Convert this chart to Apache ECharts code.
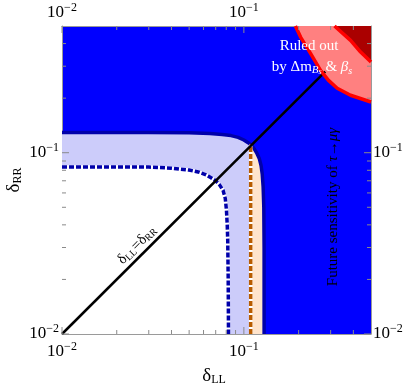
<!DOCTYPE html>
<html>
<head>
<meta charset="utf-8">
<script src="https://cdn.jsdelivr.net/npm/echarts@6/dist/echarts.min.js"></script>
<style>
html,body{margin:0;padding:0;background:#fff;}
#chart{width:407px;height:385px;}
</style>
</head>
<body>
<div id="chart"></div>
<script>
// ---- data ----
const axisMin = 0.01;
const axisMax = 0.5;
const majorTicks = [0.01, 0.1];
const minorTicks = [0.02, 0.03, 0.04, 0.05, 0.06, 0.07, 0.08, 0.09, 0.2, 0.3, 0.4];
const tickExponents = [[0.01, '−2'], [0.1, '−1']];

// present bound (solid navy curve)
const solidCurve = [
  [0.0100, 0.1292], [0.0300, 0.1292], [0.0500, 0.1287], [0.0650, 0.1276],
  [0.0760, 0.1262], [0.0850, 0.1243], [0.0930, 0.1215], [0.1000, 0.1175],
  [0.1050, 0.1140], [0.1100, 0.1100], [0.1140, 0.1050], [0.1175, 0.1000],
  [0.1215, 0.0930], [0.1243, 0.0850], [0.1262, 0.0760], [0.1276, 0.0650],
  [0.1287, 0.0500], [0.1292, 0.0300], [0.1292, 0.0100]
];
// future bound (dashed navy curve)
const dashedCurve = [
  [0.0100, 0.0835], [0.0300, 0.0833], [0.0400, 0.0822], [0.0500, 0.0802],
  [0.0570, 0.0780], [0.0620, 0.0755], [0.0660, 0.0728], [0.0700, 0.0700],
  [0.0735, 0.0665], [0.0768, 0.0621], [0.0790, 0.0560], [0.0802, 0.0482],
  [0.0810, 0.0400], [0.0815, 0.0330], [0.0820, 0.0200], [0.0823, 0.0100]
];
// orange dashed vertical line
const orangeX = 0.109;
const orangeTop = 0.111;
// Delta m_Bs & beta_s excluded region
const outerRed = [
  [0.192, 0.500], [0.205, 0.4345], [0.2325, 0.3533], [0.2639, 0.2848],
  [0.292, 0.2507], [0.326, 0.2266], [0.386, 0.2074], [0.500, 0.1905]
];
const innerRed = [
  [0.315, 0.500], [0.386, 0.4168], [0.4384, 0.359], [0.500, 0.3164]
];
const diagonal = [[0.01, 0.01], [0.28, 0.28]];

// ---- styling ----
const FONT = '"Liberation Serif", "DejaVu Serif", serif';
const C = {
  blue: '#0000ff', light: '#ccccfa', peach: '#ffe4cc', white: '#ffffff',
  navy: '#0000aa', orange: '#b85c00', lred: '#ff8080', dred: '#aa0000',
  red: '#ff0000', tick: '#8a8a8a', axis: '#9a9a9a'
};

function polygonSeries(points, color) {
  return {
    type: 'custom', silent: true, clip: false, data: points,
    renderItem: function (params, api) {
      if (params.dataIndex !== 0) return null;
      return {
        type: 'polygon',
        shape: { points: points.map(p => api.coord(p)) },
        style: { fill: color }
      };
    }
  };
}
function lineSeries(points, color, width, dash) {
  return {
    type: 'line', silent: true, data: points, symbol: 'none', smooth: false,
    lineStyle: { color: color, width: width, type: dash || 'solid', cap: 'butt' }
  };
}
function tickSeries(values, len) {
  return {
    type: 'custom', silent: true, clip: false, z: 10,
    data: values.map(v => [v, v]),
    renderItem: function (params, api) {
      const v = api.value(0);
      const cs = params.coordSys;
      const px = api.coord([v, axisMin])[0];
      const py = api.coord([axisMin, v])[1];
      const st = { stroke: C.tick, lineWidth: 1 };
      const b = cs.y + cs.height, r = cs.x + cs.width;
      return {
        type: 'group', children: [
          { type: 'line', shape: { x1: px, y1: b, x2: px, y2: b - len }, style: st },
          { type: 'line', shape: { x1: px, y1: cs.y, x2: px, y2: cs.y + len }, style: st },
          { type: 'line', shape: { x1: cs.x, y1: py, x2: cs.x + len, y2: py }, style: st },
          { type: 'line', shape: { x1: r, y1: py, x2: r - len, y2: py }, style: st }
        ]
      };
    }
  };
}

const peachPoly = [[orangeX, axisMin], [orangeX, orangeTop]]
  .concat(solidCurve.filter(p => p[0] > orangeX));
const lightPoly = solidCurve.concat([[axisMin, axisMin]]);
const whitePoly = dashedCurve.concat([[axisMin, axisMin]]);
const lredPoly = outerRed.concat([[axisMax, axisMax]]);
const dredPoly = innerRed.concat([[axisMax, axisMax]]);

function labelFmt(v) {
  for (const t of tickExponents) {
    if (Math.abs(Math.log10(v) - Math.log10(t[0])) < 1e-6) return '{b|10}{s|' + t[1] + '}';
  }
  return '';
}
const labelRich = {
  b: { fontFamily: FONT, fontSize: 17, color: '#000', lineHeight: 22, verticalAlign: 'middle' },
  s: { fontFamily: FONT, fontSize: 12, color: '#000', lineHeight: 10, verticalAlign: 'top' }
};
function makeAxis(pos, margin) {
  return {
    type: 'log', logBase: 10, min: axisMin, max: axisMax, interval: 1, position: pos,
    axisLine: { show: true, lineStyle: { color: C.axis, width: 1 } },
    axisTick: { show: false }, minorTick: { show: false },
    splitLine: { show: false }, minorSplitLine: { show: false },
    axisLabel: { show: true, margin: margin, formatter: labelFmt, rich: labelRich,
      showMaxLabel: false, showMinLabel: true, hideOverlap: false }
  };
}

const sub = (size) => ({ fontFamily: FONT, fontSize: size, fill: '#000', lineHeight: 12, verticalAlign: 'bottom' });

const chart = echarts.init(document.getElementById('chart'), null, { renderer: 'canvas' });
chart.setOption({
  animation: false,
  backgroundColor: '#ffffff',
  grid: { left: 62, top: 26, width: 309, height: 308, show: true, backgroundColor: C.blue,
    borderWidth: 0, containLabel: false, outerBoundsMode: 'none' },
  xAxis: [makeAxis('bottom', 7), makeAxis('top', 2)],
  yAxis: [makeAxis('left', 3), makeAxis('right', 2)],
  series: [
    polygonSeries(lightPoly, C.light),
    polygonSeries(peachPoly, C.peach),
    polygonSeries(whitePoly, C.white),
    lineSeries(solidCurve, C.navy, 3.5),
    lineSeries(dashedCurve, C.white, 3.5),
    lineSeries(dashedCurve, C.navy, 3.5, [5, 2]),
    lineSeries([[orangeX, axisMin], [orangeX, orangeTop]], C.white, 3.5),
    lineSeries([[orangeX, axisMin], [orangeX, orangeTop]], C.orange, 3.5, [5, 2]),
    lineSeries(diagonal, '#000', 2.5),
    polygonSeries(lredPoly, C.lred),
    polygonSeries(dredPoly, C.dred),
    lineSeries(outerRed, C.red, 3.5),
    lineSeries(innerRed, C.red, 3.5),
    tickSeries(majorTicks, 7),
    tickSeries(minorTicks, 4)
  ],
  graphic: [
    { type: 'text', x: 214, y: 376, z: 100, silent: true,
      style: { text: '{d|δ}{s|LL}', align: 'center', verticalAlign: 'middle',
        rich: { d: { fontFamily: FONT, fontSize: 19, fill: '#000', lineHeight: 20, verticalAlign: 'middle' }, s: sub(12) } } },
    { type: 'text', x: 14, y: 180, z: 100, silent: true, rotation: Math.PI / 2,
      style: { text: '{d|δ}{s|RR}', align: 'center', verticalAlign: 'middle',
        rich: { d: { fontFamily: FONT, fontSize: 19, fill: '#000', lineHeight: 20, verticalAlign: 'middle' }, s: sub(12) } } },
    { type: 'text', x: 309, y: 46, z: 100, silent: true,
      style: { text: 'Ruled out', fill: '#fff', font: '15px ' + FONT, align: 'center', verticalAlign: 'middle' } },
    { type: 'text', x: 312, y: 67, z: 100, silent: true,
      style: { text: '{n|by Δm}{i|B}{ss|s}{n| & }{g|β}{s|s}', align: 'center', verticalAlign: 'middle',
        rich: {
          n: { fontFamily: FONT, fontSize: 15, fill: '#fff', lineHeight: 18, verticalAlign: 'middle' },
          i: { fontFamily: FONT, fontSize: 11, fontStyle: 'italic', fill: '#fff', lineHeight: 12, verticalAlign: 'bottom' },
          ss: { fontFamily: FONT, fontSize: 8, fontStyle: 'italic', fill: '#fff', lineHeight: 8, verticalAlign: 'bottom' },
          g: { fontFamily: FONT, fontSize: 15, fontStyle: 'italic', fill: '#fff', lineHeight: 18, verticalAlign: 'middle' },
          s: { fontFamily: FONT, fontSize: 10, fontStyle: 'italic', fill: '#fff', lineHeight: 12, verticalAlign: 'bottom' }
        } } },
    { type: 'text', x: 333, y: 207, z: 100, silent: true, rotation: Math.PI / 2,
      style: { text: 'Future sensitivity of {g|τ→μγ}', fill: '#000', font: '15px ' + FONT,
        align: 'center', verticalAlign: 'middle',
        rich: { g: { fontFamily: FONT, fontSize: 15, fontStyle: 'italic', fill: '#000' } } } },
    { type: 'text', x: 137, y: 245, z: 100, silent: true, rotation: Math.PI / 4,
      style: { text: '{d|δ}{s|LL}{d|=δ}{s|RR}', align: 'center', verticalAlign: 'middle',
        rich: { d: { fontFamily: FONT, fontSize: 15, fill: '#000', lineHeight: 16, verticalAlign: 'middle' },
          s: { fontFamily: FONT, fontSize: 10, fill: '#000', lineHeight: 11, verticalAlign: 'bottom' } } } }
  ]
});
</script>
</body>
</html>
